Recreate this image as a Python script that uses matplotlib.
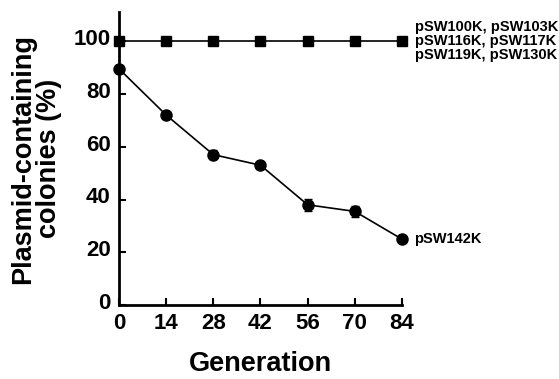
import matplotlib
matplotlib.use("Agg")
import matplotlib.pyplot as plt
import matplotlib.transforms as mtransforms

plt.rcParams['font.family'] = ['Liberation Sans', 'DejaVu Sans']
plt.rcParams['font.weight'] = 'bold'

generation = [0, 14, 28, 42, 56, 70, 84]
stable = [100, 100, 100, 100, 100, 100, 100]
psw142k = [89.5, 72, 57, 53, 38, 35.5, 25]
psw142k_err = [0.8, 0.8, 1.8, 0.8, 2.2, 2.2, 0.8]

stable_label = "pSW100K, pSW103K\npSW116K, pSW117K\npSW119K, pSW130K"
unstable_label = "pSW142K"

fig = plt.figure(figsize=(5.59, 3.79), dpi=100)
ax = fig.add_axes([0.213, 0.195, 0.506, 0.773])

ax.plot(generation, stable, color='black', lw=1.2, marker='s', ms=7, clip_on=False, zorder=3)
ax.errorbar(generation, psw142k, yerr=psw142k_err, color='black', lw=1.2, marker='o', ms=8,
            capsize=3, elinewidth=1.2, clip_on=False, zorder=3)

ax.set_xlim(0, 84)
ax.set_ylim(0, 111)
ax.set_xticks(generation)
ax.set_yticks([0, 20, 40, 60, 80, 100])
for s in ['top', 'right']:
    ax.spines[s].set_visible(False)
for s in ['left', 'bottom']:
    ax.spines[s].set_linewidth(2)
ax.tick_params(direction='in', length=5, width=1.5, labelsize=16, pad=6)
for t in ax.get_xticklabels() + ax.get_yticklabels():
    t.set_fontweight('bold')

# y tick labels sit a little above their ticks in the original
shift = mtransforms.ScaledTranslation(0, 3 / 72, fig.dpi_scale_trans)
for t in ax.get_yticklabels():
    t.set_transform(t.get_transform() + shift)

ax.set_xlabel("Generation", fontsize=19.5, fontweight='bold', labelpad=12)
ax.set_ylabel("Plasmid-containing\ncolonies (%)", fontsize=19.5, fontweight='bold', labelpad=8,
              linespacing=1.0)

ax.annotate(stable_label, xy=(84, 100), xytext=(9.5, 0), textcoords='offset points',
            fontsize=10.5, fontweight='bold', va='center', ha='left', linespacing=1.02,
            annotation_clip=False)
ax.annotate(unstable_label, xy=(84, psw142k[-1]), xytext=(9, 0), textcoords='offset points',
            fontsize=10.5, fontweight='bold', va='center', ha='left', annotation_clip=False)

fig.savefig("out.png", dpi=100)
